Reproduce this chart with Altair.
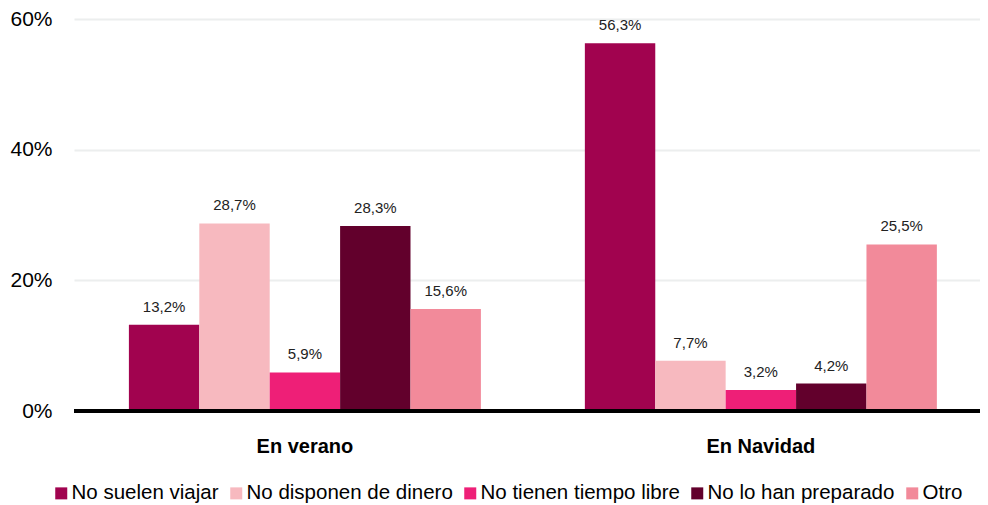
import altair as alt
import pandas as pd

groups = ["En verano", "En Navidad"]
series = ["No suelen viajar", "No disponen de dinero", "No tienen tiempo libre",
          "No lo han preparado", "Otro"]
verano = [13.2, 28.7, 5.9, 28.3, 15.6]
navidad = [56.3, 7.7, 3.2, 4.2, 25.5]
colors = ["#A1034F", "#F7B9BF", "#EE1F77", "#62002C", "#F28A9A"]
y_ticks = [0, 20, 40, 60]

rows = []
for g, vals in zip(groups, [verano, navidad]):
    for s, v in zip(series, vals):
        rows.append({"grupo": g, "serie": s, "valor": v,
                     "etiqueta": f"{v:.1f}%".replace(".", ",")})
df = pd.DataFrame(rows)

FONT = "Liberation Sans"

base = alt.Chart(df).encode(
    x=alt.X("grupo:N", sort=groups, title=None,
            scale=alt.Scale(paddingInner=0.228, paddingOuter=0.1075, align=0.56),
            axis=alt.Axis(labelAngle=0, labelFontSize=20, labelFontWeight="bold",
                          labelFont=FONT, labelColor="#000000", labelPadding=25,
                          ticks=False, domain=False, grid=False)),
    xOffset=alt.XOffset("serie:N", sort=series, scale=alt.Scale(paddingInner=0, paddingOuter=0)),
)

bars = base.mark_bar().encode(
    y=alt.Y("valor:Q", title=None,
            scale=alt.Scale(domain=[0, 60], nice=False),
            axis=alt.Axis(values=y_ticks, labelExpr="datum.value + '%'",
                          labelFontSize=21, labelFont=FONT, labelColor="#000000",
                          labelPadding=22, ticks=False, domain=False,
                          grid=True, gridColor="#ECEEEE", gridWidth=2)),
    color=alt.Color("serie:N", sort=series,
                    scale=alt.Scale(domain=series, range=colors),
                    legend=alt.Legend(title=None, orient="none", direction="horizontal",
                                      legendX=-23, legendY=464, columns=5,
                                      symbolType="square", symbolSize=144,
                                      symbolStrokeWidth=0, symbolOpacity=1,
                                      labelFontSize=20.5, labelFont=FONT, labelLimit=0,
                                      labelColor="#000000", labelOffset=0,
                                      columnPadding=7)),
)

labels = base.mark_text(baseline="bottom", dy=-10, fontSize=15, font=FONT,
                        color="#222222").encode(
    y=alt.Y("valor:Q"),
    text="etiqueta:N",
)

zero = alt.Chart(df).mark_rule(color="#000000", strokeWidth=3).encode(
    y=alt.datum(0)
)

chart = alt.layer(bars, labels, zero).properties(
    width=906, height=392,
    autosize=alt.AutoSizeParams(type="none"),
    padding={"left": 66, "top": 11, "right": 0, "bottom": 94},
).configure_view(stroke=None)

chart.save("out.html", embed_options={"renderer": "svg", "actions": False})
